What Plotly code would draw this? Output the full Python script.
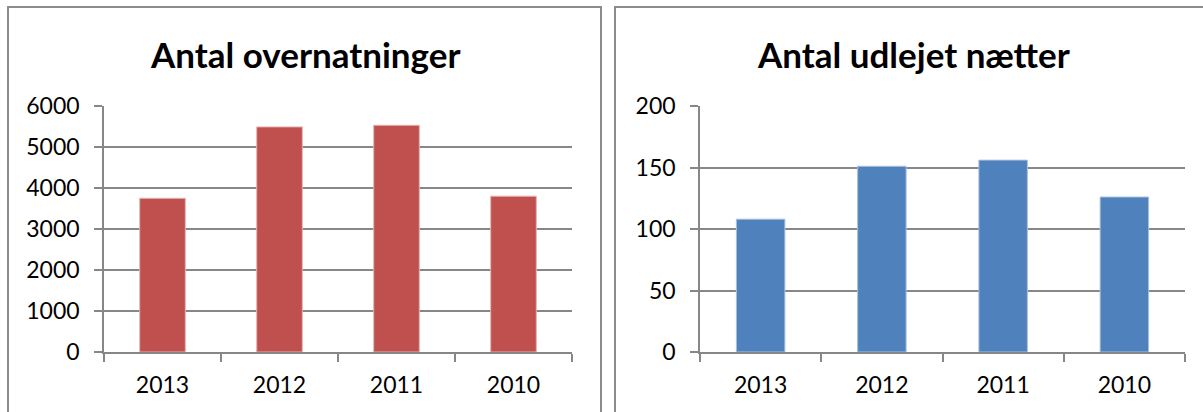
import plotly.graph_objects as go

years = ["2013", "2012", "2011", "2010"]
overnatninger = [3750, 5490, 5530, 3800]
udlejet_naetter = [108, 151, 156, 126]
left_ticks = [0, 1000, 2000, 3000, 4000, 5000, 6000]
right_ticks = [0, 50, 100, 150, 200]
title_left = "Antal overnatninger"
title_right = "Antal udlejet nætter"

W, H = 1203, 412
FONT = "Lato"
GRID = "#878787"

def px(x):
    return x / W

def py(y):
    return 1 - y / H

fig = go.Figure()
fig.add_trace(go.Bar(x=years, y=overnatninger, xaxis="x", yaxis="y",
                     marker=dict(color="#C0504D", line=dict(color="#E3B5B4", width=1)),
                     width=0.39, hoverinfo="x+y"))
fig.add_trace(go.Bar(x=years, y=udlejet_naetter, xaxis="x2", yaxis="y2",
                     marker=dict(color="#4F81BD", line=dict(color="#A9C0DE", width=1)),
                     width=0.4, hoverinfo="x+y"))

ydom = [py(352), py(106)]
common_x = dict(type="category", showgrid=False, showline=True, linecolor=GRID, linewidth=1.5,
                ticks="outside", ticklen=8, tickcolor=GRID, tickwidth=1.5, tickson="boundaries",
                tickfont=dict(family=FONT, size=23, color="#000"), ticklabelstandoff=12,
                fixedrange=True, automargin=False)
common_y = dict(showgrid=True, gridcolor=GRID, gridwidth=1.5, showline=True, linecolor=GRID,
                linewidth=1.5, ticks="outside", ticklen=8, tickcolor=GRID, tickwidth=1.5,
                tickfont=dict(family=FONT, size=23, color="#000"), ticklabelstandoff=10,
                zeroline=False, fixedrange=True, automargin=False)

fig.update_layout(
    template="none",
    width=W, height=H, autosize=False,
    margin=dict(l=0, r=0, t=0, b=0, pad=0),
    paper_bgcolor="white", plot_bgcolor="white",
    showlegend=False, bargap=0.6,
    xaxis=dict(domain=[px(104), px(572)], anchor="y", **common_x),
    yaxis=dict(domain=ydom, anchor="x", range=[0, 6000], tickvals=left_ticks, **common_y),
    xaxis2=dict(domain=[px(700), px(1185)], anchor="y2", **common_x),
    yaxis2=dict(domain=ydom, anchor="x2", range=[0, 200], tickvals=right_ticks, **common_y),
    annotations=[
        dict(text="<b>" + title_left + "</b>", x=px(305), y=py(54), xref="paper", yref="paper",
             showarrow=False, xanchor="center", yanchor="middle",
             font=dict(family=FONT, size=35, color="#000")),
        dict(text="<b>" + title_right + "</b>", x=px(913), y=py(54), xref="paper", yref="paper",
             showarrow=False, xanchor="center", yanchor="middle",
             font=dict(family=FONT, size=35, color="#000")),
    ],
    shapes=[
        dict(type="rect", xref="paper", yref="paper", x0=px(8), x1=px(601), y0=py(430), y1=py(7),
             line=dict(color="#8C8C8C", width=2), fillcolor="rgba(0,0,0,0)", layer="below"),
        dict(type="rect", xref="paper", yref="paper", x0=px(615), x1=px(1230), y0=py(430), y1=py(7),
             line=dict(color="#8C8C8C", width=2), fillcolor="rgba(0,0,0,0)", layer="below"),
    ],
)

fig.write_html("out.html", config={"displayModeBar": False},
               post_script="document.body.style.margin='0';document.body.style.overflow='hidden';")
